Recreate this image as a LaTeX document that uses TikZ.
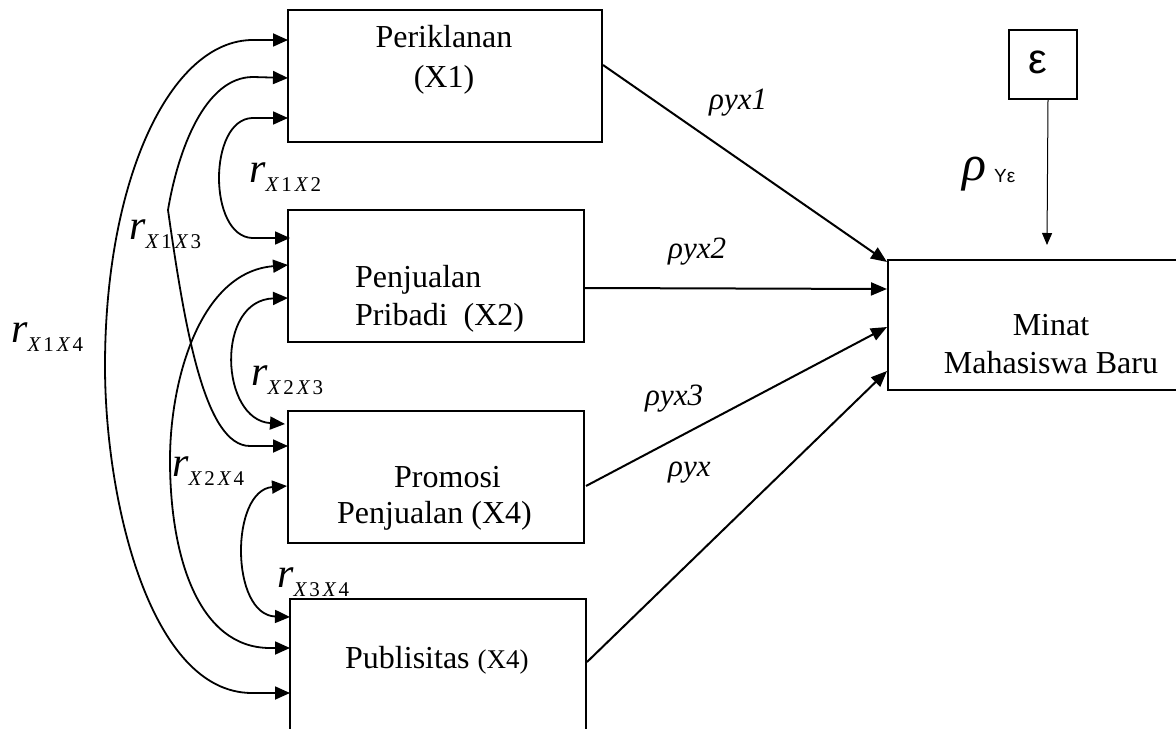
\documentclass[tikz,border=0pt]{standalone}
\usepackage{fontspec}
\setmainfont{Liberation Serif}
\newfontfamily\sansf{Liberation Sans}
\usetikzlibrary{arrows.meta,calc}
\newcommand{\fsz}[1]{\fontsize{#1bp}{#1bp}\selectfont}
\newcommand{\corrlab}[2]{{\fsz{42}\itshape r}\raisebox{-9bp}{\fsz{21}\itshape X\kern3bp\upshape #1\kern3bp\itshape X\kern3bp\upshape #2}}
\begin{document}
\begin{tikzpicture}[x=1bp,y=-1bp,
  box/.style={draw,line width=2bp,rectangle,inner sep=0pt,anchor=north west},
  txt/.style={inner sep=0pt,font=\fsz{32}},
  corr/.style={line width=1.8bp,{Triangle[length=15bp,width=13bp]}-{Triangle[length=15bp,width=13bp]}},
  path/.style={line width=2bp,-{Triangle[length=16bp,width=13bp]}},
  thinarrow/.style={line width=1bp,-{Triangle[length=12bp,width=10bp]}},
  rho/.style={inner sep=0pt,anchor=base west,font=\fsz{31}\itshape},
  rl/.style={inner sep=0pt,anchor=base west}]
\useasboundingbox (0,0) rectangle (1176,729);
% boxes
\node[box,minimum width=314bp,minimum height=132bp] (x1) at (287,9) {};
\node[box,minimum width=296bp,minimum height=132bp] (x2) at (287,209) {};
\node[box,minimum width=296bp,minimum height=132bp] (x3) at (287,410) {};
\node[box,minimum width=296bp,minimum height=150bp] (x4) at (289,598) {};
\node[box,minimum width=330bp,minimum height=130bp] (y) at (887,259) {};
\node[box,minimum width=68bp,minimum height=69bp] (eps) at (1008,29) {};
% texts
\node[txt,anchor=base] (x1a) at (444,48) {Periklanan};
\node[txt,anchor=base] (x1b) at (444,88) {(X1)};
\node[txt,anchor=base west] (x2a) at (355,287) {Penjualan};
\node[txt,anchor=base west] (x2b) at (355,325) {Pribadi\ \ (X2)};
\node[txt,anchor=base west] (x3a) at (394,487) {Promosi};
\node[txt,anchor=base west] (x3b) at (337,523) {Penjualan (X4)};
\node[txt,anchor=base west] (x4a) at (345,668) {Publisitas {\fsz{27}(X4)}};
\node[txt,anchor=base] (ya) at (1051,335) {Minat};
\node[txt,anchor=base] (yb) at (1051,373) {Mahasiswa Baru};
\node[inner sep=0pt,font=\sansf\fsz{42}] (epst) at (1038,62) {ε};
% path arrows
\draw[path] ($(x1.north east)+(0,56)$) -- ($(y.north west)+(0,3)$);
\draw[path] ($(x2.north east)+(0,79)$) -- ($(y.north west)+(0,30)$);
\draw[path] ($(x3.north east)+(1,76)$) -- ($(y.north west)+(0,68)$);
\draw[path] ($(x4.north east)+(0,64)$) -- ($(y.north west)+(0,112)$);
\coordinate (epsend) at (1047,245);
\draw[thinarrow] ($(eps.south)+(5,0)$) -- (epsend);
% correlation curves
\draw[corr] ($(x1.north west)+(1,31)$) -- (253,40) .. controls (170,40) and (105,180) .. (105,366) .. controls (105,500) and (150,693) .. (252,693) -- ($(x4.north west)+(1,95)$);
\draw[corr] ($(x1.north west)+(1,69)$) -- (253,77) .. controls (205,77) and (178,150) .. (168,210) .. controls (185,330) and (205,446) .. (250,446) -- ($(x3.north west)+(1,36)$);
\draw[corr] ($(x1.north west)+(1,109)$) -- (252,118) .. controls (208,120) and (208,236) .. (252,238) -- ($(x2.north west)+(3,29)$);
\draw[corr] ($(x2.north west)+(1,56)$) .. controls (200,272) and (170,380) .. (170,460) .. controls (170,560) and (200,648) .. (270,648) -- ($(x4.north west)+(1,50)$);
\draw[corr] ($(x2.north west)+(1,89)$) .. controls (215,300) and (220,420) .. ($(x3.north west)+(-2,14)$);
\draw[corr] ($(x3.north west)+(0,76)$) .. controls (230,490) and (230,615) .. ($(x4.north west)+(1,19)$);
% correlation labels
\node[rl] (r12) at (249,183) {\corrlab{1}{2}};
\node[rl] (r13) at (129,239) {\corrlab{1}{3}};
\node[rl] (r14) at (11,342) {\corrlab{1}{4}};
\node[rl] (r23) at (251,385) {\corrlab{2}{3}};
\node[rl] (r24) at (172,476) {\corrlab{2}{4}};
\node[rl] (r34) at (277,587) {\corrlab{3}{4}};
% path labels
\node[rho] (p1) at (709,110) {ρyx1};
\node[rho] (p2) at (668,258) {ρyx2};
\node[rho] (p3) at (645,405) {ρyx3};
\node[rho] (p4) at (668,476) {ρyx};
\node[rl] (pe) at (962,181) {{\fsz{50}\itshape ρ}\kern8bp\raisebox{-2bp}{\sansf\fsz{19}Yε}};
\end{tikzpicture}
\end{document}
